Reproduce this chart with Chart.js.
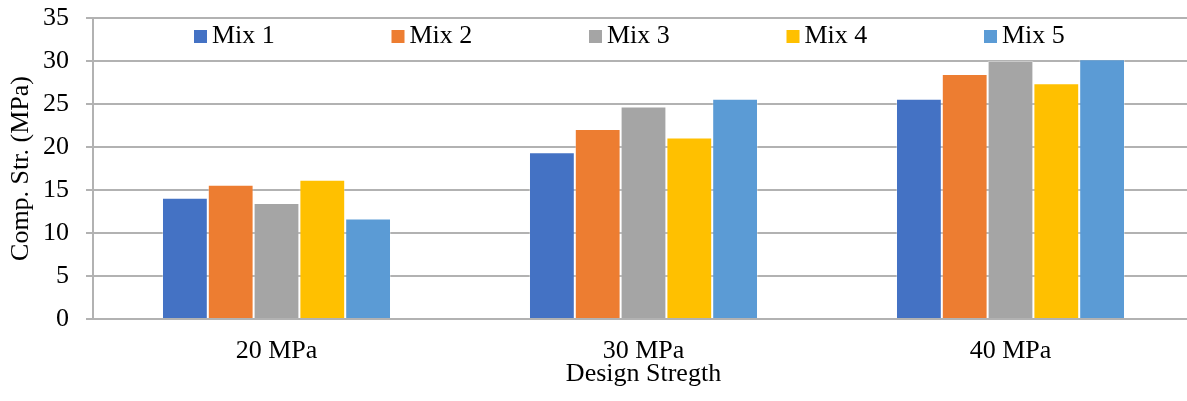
<!DOCTYPE html>
<html><head><meta charset="utf-8">
<script src="https://cdn.jsdelivr.net/npm/chart.js@4.4.1/dist/chart.umd.min.js"></script>
<style>
html,body{margin:0;padding:0;background:#fff;overflow:hidden;width:1187px;height:401px;}
#wrap{position:relative;width:1194px;height:401px;}
canvas{display:block;}
</style></head><body>
<div id="wrap"><canvas id="c" width="1194" height="401"></canvas></div>
<script>
// ---- data ----
const categories = ['20 MPa', '30 MPa', '40 MPa'];
const seriesNames = ['Mix 1', 'Mix 2', 'Mix 3', 'Mix 4', 'Mix 5'];
const mix1 = [14.1, 19.4, 25.6];
const mix2 = [15.6, 22.1, 28.5];
const mix3 = [13.5, 24.7, 30.0];
const mix4 = [16.2, 21.1, 27.4];
const mix5 = [11.7, 25.6, 30.2];
const yTickValues = [0, 5, 10, 15, 20, 25, 30, 35];
const xTitle = 'Design Stregth';
const yTitle = 'Comp. Str. (MPa)';

// ---- styles ----
const colors = ['#4472C4', '#ED7D31', '#A5A5A5', '#FFC000', '#5B9BD5'];
const FONT = "'Liberation Serif', 'Times New Roman', serif";
const gridColor = '#b2b2b2';
const seriesValues = [mix1, mix2, mix3, mix4, mix5];

const legendPlugin = {
  id: 'mixLegend',
  afterDraw(chart, args, opts) {
    const {ctx, chartArea} = chart;
    ctx.save();
    ctx.font = opts.fontSize + 'px ' + FONT;
    ctx.textBaseline = 'middle';
    ctx.textAlign = 'left';
    chart.data.datasets.forEach((ds, i) => {
      const x = chartArea.left + opts.startOffset + i * opts.spacing;
      ctx.fillStyle = ds.backgroundColor;
      ctx.fillRect(x, opts.y - opts.box / 2, opts.box, opts.box);
      ctx.fillStyle = opts.color;
      ctx.fillText(ds.label, x + opts.box + opts.gap, opts.y);
    });
    ctx.restore();
  }
};

new Chart(document.getElementById('c'), {
  type: 'bar',
  data: {
    labels: categories,
    datasets: seriesNames.map((name, i) => ({
      label: name,
      data: seriesValues[i],
      backgroundColor: colors[i],
      borderColor: 'rgba(255,255,255,0.3)',
      borderWidth: 1,
      categoryPercentage: 0.624,
      barPercentage: 1.0
    }))
  },
  plugins: [legendPlugin],
  options: {
    responsive: false,
    animation: false,
    devicePixelRatio: 1,
    layout: {padding: {top: 18, right: 0, left: 0, bottom: 0}},
    plugins: {
      legend: {display: false},
      tooltip: {enabled: false},
      mixLegend: {startOffset: 101, spacing: 197.5, box: 13, gap: 5, y: 36.5, fontSize: 26, color: '#000'}
    },
    scales: {
      x: {
        grid: {display: false, drawTicks: false},
        border: {display: true, color: gridColor, width: 2},
        ticks: {color: '#000', font: {family: FONT, size: 26}, padding: 17, maxRotation: 0},
        title: {display: true, text: xTitle, color: '#000', font: {family: FONT, size: 26}, padding: {top: 0, bottom: 11}},
        afterFit(scale) { scale.height = 82; scale.paddingLeft = 0; scale.paddingRight = 0; }
      },
      y: {
        min: 0, max: 35,
        afterBuildTicks(scale) { scale.ticks = yTickValues.map(v => ({value: v})); },
        grid: {color: gridColor, lineWidth: 2, tickLength: 7, drawTicks: true},
        border: {display: true, color: gridColor, width: 2},
        ticks: {color: '#000', font: {family: FONT, size: 26}, padding: 17},
        title: {display: true, text: yTitle, color: '#000', font: {family: FONT, size: 26}, padding: {top: 6, bottom: 0}},
        afterFit(scale) { scale.width = 93; scale.paddingTop = 0; scale.paddingBottom = 0; }
      }
    }
  }
});
</script>
</body></html>
